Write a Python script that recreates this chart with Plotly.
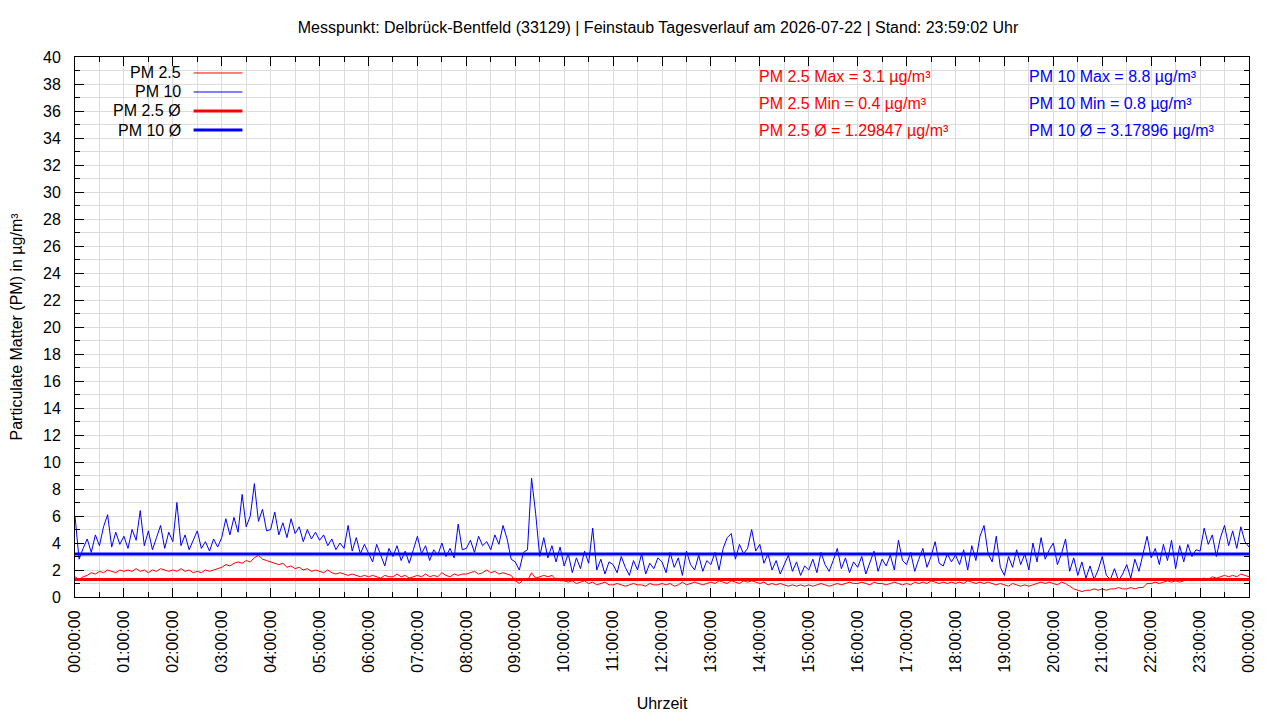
import pandas as pd
import plotly.graph_objects as go

# 5-minute readings, one row per hour (12 values), plus the 24:00 endpoint
pm10 = [
    6.0, 2.8, 3.6, 4.3, 3.3, 4.6, 3.8, 5.2, 6.1, 3.7, 4.8, 3.9,
    4.5, 3.6, 5.0, 4.2, 6.4, 3.8, 4.9, 3.5, 4.4, 5.3, 3.6, 4.8,
    4.1, 7.0, 3.8, 4.6, 3.5, 4.2, 4.9, 3.6, 4.1, 3.4, 4.3, 3.7,
    4.4, 5.8, 4.6, 5.9, 4.8, 7.6, 5.2, 6.0, 8.4, 5.6, 6.5, 4.9,
    5.0, 6.3, 4.6, 5.5, 4.4, 5.8, 4.7, 5.2, 4.1, 5.0, 4.3, 4.8,
    4.2, 4.6, 3.8, 4.3, 3.5, 4.0, 3.6, 5.3, 3.4, 4.4, 3.2, 3.9,
    3.3, 2.6, 3.9, 3.1, 2.3, 3.6, 3.0, 3.8, 2.7, 3.4, 2.5, 3.5,
    4.5, 3.2, 3.8, 2.7, 3.5, 3.1, 4.0, 3.0, 3.6, 2.9, 5.4, 3.5,
    3.6, 4.2, 3.3, 4.5, 3.8, 4.1, 3.5, 4.6, 3.9, 5.3, 4.3, 2.8,
    2.6, 2.0, 3.3, 3.5, 8.8, 6.2, 3.0, 4.4, 2.9, 3.8, 2.6, 3.7,
    2.3, 3.2, 1.8, 2.9, 2.1, 3.4, 2.5, 5.1, 2.0, 2.8, 1.7, 2.6,
    2.4, 1.8, 3.0, 2.2, 1.6, 2.7, 2.0, 3.2, 1.7, 2.5, 2.1, 2.9,
    2.6, 1.8, 3.3, 2.2, 2.9, 1.6, 3.4, 2.4, 2.0, 3.1, 1.9, 2.7,
    2.4, 3.3, 2.0, 3.6, 4.4, 4.7, 2.8, 3.9, 3.2, 3.6, 5.0, 3.4,
    3.9, 2.5, 3.2, 2.0, 2.7, 1.7, 2.4, 3.1, 1.9, 2.6, 1.6, 2.3,
    2.0, 2.8, 1.8, 3.3, 2.4, 1.9, 2.7, 3.6, 2.1, 2.9, 1.8, 2.6,
    2.2, 3.0, 1.7, 2.6, 3.4, 1.9, 2.8, 2.3, 3.1, 2.0, 4.2, 2.7,
    2.4, 3.3, 1.9, 2.8, 3.6, 2.2, 3.0, 4.1, 2.5, 2.3, 3.2, 2.6,
    3.1, 2.4, 3.5, 2.0, 3.8, 2.7, 4.5, 5.3, 3.2, 2.6, 4.5, 2.2,
    1.6, 3.0, 2.2, 3.5, 2.4, 3.2, 2.0, 4.0, 2.6, 4.4, 2.8, 3.5,
    4.0, 2.4, 3.2, 4.3, 1.9, 2.9, 1.6, 2.6, 1.4, 2.3, 1.3, 2.0,
    3.0, 1.6, 1.3, 2.1, 1.2, 1.7, 2.4, 1.4, 2.8, 1.9, 3.2, 4.5,
    2.9, 3.6, 2.4, 3.9, 2.7, 4.2, 2.1, 3.8, 2.6, 3.9, 3.0, 3.5,
    3.4, 5.1, 3.9, 4.6, 3.0, 4.4, 5.3, 3.8, 4.9, 3.6, 5.2, 4.1,
    3.7,
]

pm25 = [
    1.5, 1.3, 1.5, 1.6, 1.8, 1.7, 1.9, 1.8, 2.0, 1.9, 1.8, 2.0,
    1.9, 2.0, 1.9, 2.1, 1.9, 2.0, 1.8, 2.0, 1.9, 2.1, 2.0, 1.9,
    2.0, 1.9, 2.1, 1.9, 2.0, 1.8, 1.9, 1.8, 2.0, 1.9, 2.0, 2.1,
    2.2, 2.4, 2.3, 2.5, 2.6, 2.5, 2.7, 2.6, 2.9, 3.1, 2.8, 2.7,
    2.6, 2.5, 2.4, 2.5, 2.2, 2.3, 2.1, 2.2, 2.0, 2.1, 1.9, 2.0,
    1.9, 1.8, 2.0, 1.8, 1.7, 1.8, 1.7, 1.6, 1.7, 1.6, 1.5, 1.6,
    1.5, 1.6, 1.5, 1.4, 1.6, 1.5, 1.5, 1.7, 1.5, 1.6, 1.4, 1.5,
    1.6, 1.5, 1.7, 1.5, 1.6, 1.5, 1.8, 1.6, 1.5, 1.7, 1.6, 1.7,
    1.7, 1.8, 1.9, 1.7, 1.8, 2.0, 1.8, 1.9, 1.7, 1.8, 1.7, 1.6,
    1.2, 1.0, 1.3, 1.2, 1.8, 1.4, 1.5, 1.6, 1.5, 1.6, 1.3, 1.2,
    1.2, 1.1, 1.2, 1.0, 1.1, 1.2, 1.0, 1.1, 0.9, 1.0, 1.1, 0.9,
    0.9, 1.0, 0.9, 0.8, 0.9, 1.0, 0.9, 0.9, 0.8, 1.0, 0.9, 0.9,
    1.0, 0.9, 1.0, 0.8, 0.9, 1.1, 0.9, 1.0, 1.1, 1.0, 0.9, 1.0,
    1.1, 1.0, 1.2, 1.1, 1.0, 1.2, 1.1, 1.0, 1.2, 1.1, 1.2, 1.1,
    1.0, 1.1, 0.9, 1.0, 0.9, 1.0, 0.9, 0.8, 0.9, 0.8, 0.9, 0.8,
    0.9, 0.8, 0.9, 1.0, 0.9, 0.8, 0.9, 1.0, 0.9, 1.0, 1.1, 1.0,
    1.0, 1.1, 1.0, 0.9, 1.1, 1.0, 1.0, 0.9, 1.0, 1.1, 1.0, 0.9,
    1.0, 0.9, 1.1, 1.0, 1.1, 1.0, 1.2, 1.1, 1.0, 1.1, 1.0, 1.1,
    1.0, 1.1, 1.0, 1.2, 1.1, 1.0, 1.1, 1.0, 1.1, 1.0, 0.9, 1.0,
    0.9, 0.8, 1.0, 0.9, 0.8, 0.9, 0.8, 0.9, 1.0, 1.1, 1.0, 1.1,
    1.0, 0.9, 1.1, 1.0, 0.8, 0.6, 0.5, 0.4, 0.5, 0.5, 0.6, 0.5,
    0.6, 0.5, 0.6, 0.6, 0.7, 0.6, 0.6, 0.7, 0.6, 0.7, 0.7, 1.0,
    1.0, 1.1, 1.0, 1.1, 1.2, 1.1, 1.2, 1.1, 1.2, 1.3, 1.2, 1.3,
    1.3, 1.4, 1.3, 1.5, 1.4, 1.5, 1.6, 1.5, 1.6, 1.5, 1.7, 1.6,
    1.5,
]

pm25_max, pm25_min, pm25_avg = 3.1, 0.4, 1.29847
pm10_max, pm10_min, pm10_avg = 8.8, 0.8, 3.17896

day_start = "2026-07-22 00:00:00"
day_end = "2026-07-23 00:00:00"
times = pd.date_range(day_start, day_end, freq="5min")

title_text = ("Messpunkt: Delbrück-Bentfeld (33129) | Feinstaub Tagesverlauf am "
              "2026-07-22 | Stand: 23:59:02 Uhr")

RED = "#ff0000"
BLUE = "#0000ff"
FONT = "Liberation Sans, Arial, sans-serif"
GRID = "#dcdcdc"

fig = go.Figure()
fig.add_trace(go.Scatter(x=times, y=pm25, mode="lines", name="PM 2.5",
                         line=dict(color=RED, width=1)))
fig.add_trace(go.Scatter(x=times, y=pm10, mode="lines", name="PM 10",
                         line=dict(color=BLUE, width=1)))
fig.add_trace(go.Scatter(x=[day_start, day_end], y=[pm25_avg, pm25_avg], mode="lines",
                         name="PM 2.5 Ø", line=dict(color=RED, width=3)))
fig.add_trace(go.Scatter(x=[day_start, day_end], y=[pm10_avg, pm10_avg], mode="lines",
                         name="PM 10 Ø", line=dict(color=BLUE, width=3)))

# gnuplot-style key: label on the left, line sample on the right
key_rows = [("PM 2.5", RED, 1, 0.9704), ("PM 10", BLUE, 1, 0.9352),
            ("PM 2.5 Ø", RED, 3, 0.9000), ("PM 10 Ø", BLUE, 3, 0.8648)]
annotations = []
shapes = []
for label, col, w, yy in key_rows:
    annotations.append(dict(text=label, x=0.0920, y=yy, xref="paper", yref="paper",
                            xanchor="right", yanchor="middle", showarrow=False,
                            font=dict(size=16, color="black", family=FONT)))
    shapes.append(dict(type="line", xref="paper", yref="paper", x0=0.1010, x1=0.1426,
                       y0=yy, y1=yy, line=dict(color=col, width=w)))

stats = [
    (f"PM 2.5 Max = {pm25_max} µg/m³", RED, 0.5809, 0.963),
    (f"PM 2.5 Min = {pm25_min} µg/m³", RED, 0.5809, 0.913),
    (f"PM 2.5 Ø = {pm25_avg} µg/m³", RED, 0.5809, 0.863),
    (f"PM 10 Max = {pm10_max} µg/m³", BLUE, 0.8109, 0.963),
    (f"PM 10 Min = {pm10_min} µg/m³", BLUE, 0.8109, 0.913),
    (f"PM 10 Ø = {pm10_avg} µg/m³", BLUE, 0.8109, 0.863),
]
for txt, col, xx, yy in stats:
    annotations.append(dict(text=txt, x=xx, y=yy, xref="paper", yref="paper",
                            xanchor="left", yanchor="middle", showarrow=False,
                            font=dict(size=16, color=col, family=FONT)))

# the page body has an 8px margin, so the figure is sized 1264x704
fig.update_layout(
    width=1264, height=704,
    margin=dict(l=67, r=23, t=49, b=115),
    paper_bgcolor="white", plot_bgcolor="white",
    font=dict(family=FONT, size=16, color="black"),
    showlegend=False,
    title=dict(text=title_text, x=0.4966, xref="paper", y=1 - 19 / 704, yref="container",
               yanchor="middle", xanchor="center", font=dict(size=16)),
    annotations=annotations,
    shapes=shapes,
)

fig.update_xaxes(
    type="date", range=[day_start, day_end], automargin=False,
    tick0=day_start, dtick=3600000, tickformat="%H:%M:%S", tickangle=-90,
    ticks="inside", ticklen=9, tickcolor="black", mirror="allticks",
    showline=True, linecolor="black", linewidth=1,
    showgrid=True, gridcolor=GRID, gridwidth=1, zeroline=False,
    ticklabelstandoff=6,
    minor=dict(dtick=1800000, ticks="inside", ticklen=5, tickcolor="black",
               showgrid=True, gridcolor=GRID),
    title=dict(text="Uhrzeit", standoff=28, font=dict(size=16)),
)
fig.update_yaxes(
    range=[0, 40], tick0=0, dtick=2, automargin=False,
    ticks="inside", ticklen=9, tickcolor="black", mirror="allticks",
    showline=True, linecolor="black", linewidth=1,
    showgrid=True, gridcolor=GRID, gridwidth=1, zeroline=False,
    ticklabelstandoff=10,
    minor=dict(dtick=1, ticks="inside", ticklen=5, tickcolor="black",
               showgrid=True, gridcolor=GRID),
    title=dict(text="Particulate Matter (PM) in µg/m³", standoff=19, font=dict(size=16)),
)

fig.write_html("out.html")
